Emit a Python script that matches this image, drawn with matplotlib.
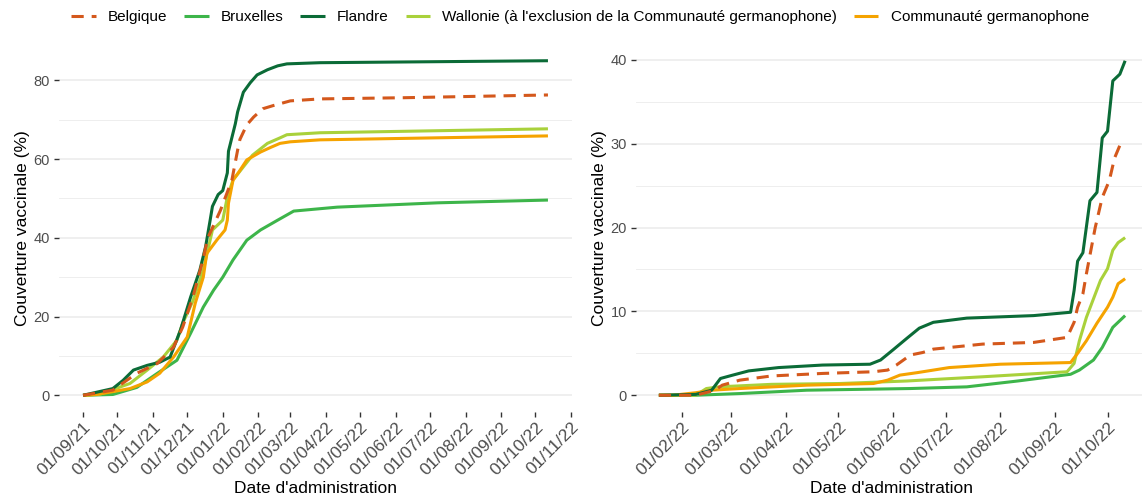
import matplotlib
matplotlib.use("Agg")
import matplotlib.pyplot as plt
import matplotlib.dates as mdates
import pandas as pd

plt.rcParams['font.family'] = ['Liberation Sans', 'DejaVu Sans']

# --- Panneau gauche (sept. 2021 -> oct. 2022) ---
g_flandre_d = ["2021-09-01", "2021-09-27", "2021-10-06", "2021-10-15", "2021-10-27", "2021-11-07",
               "2021-11-16", "2021-11-25", "2021-12-04", "2021-12-12", "2021-12-17", "2021-12-21",
               "2021-12-23", "2021-12-28", "2022-01-01", "2022-01-05", "2022-01-06", "2022-01-12",
               "2022-01-14", "2022-01-19", "2022-01-25", "2022-01-31", "2022-02-09", "2022-02-18",
               "2022-02-26", "2022-03-27", "2022-10-12"]
g_flandre_v = [0, 1.7, 3.8, 6.4, 7.6, 8.4, 9.7, 16.5, 25, 31.8, 37.7, 44.5, 48, 51, 52, 56.5, 62,
               69, 72, 77, 79.4, 81.4, 82.7, 83.7, 84.2, 84.5, 85.0]

g_belgique_d = ["2021-09-01", "2021-09-27", "2021-10-18", "2021-11-05", "2021-11-19", "2021-11-27",
                "2021-12-06", "2021-12-14", "2021-12-19", "2021-12-30", "2022-01-09", "2022-01-14",
                "2022-01-16", "2022-01-22", "2022-01-28", "2022-02-05", "2022-02-14", "2022-03-01",
                "2022-03-27", "2022-06-08", "2022-10-12"]
g_belgique_v = [0, 1.3, 5.6, 8.1, 12.2, 17.3, 25, 33.6, 40, 47, 54.7, 62.3, 65, 68.7, 70.7, 72.8,
                73.6, 74.8, 75.3, 75.6, 76.3]

g_wallonie_d = ["2021-09-01", "2021-09-16", "2021-10-12", "2021-10-27", "2021-11-10", "2021-11-22",
                "2021-11-27", "2021-12-06", "2021-12-15", "2021-12-23", "2022-01-01", "2022-01-05",
                "2022-01-10", "2022-01-27", "2022-02-09", "2022-02-20", "2022-02-26", "2022-03-27",
                "2022-10-12"]
g_wallonie_v = [0, 0.3, 3, 6.4, 9.7, 14, 18.3, 24, 31.8, 42, 44.5, 50.4, 54.7, 61, 64, 65.4, 66.2,
                66.7, 67.7]

g_germ_d = ["2021-09-01", "2021-09-13", "2021-10-12", "2021-10-27", "2021-11-07", "2021-11-19",
            "2021-12-01", "2021-12-08", "2021-12-15", "2021-12-18", "2021-12-27", "2022-01-03",
            "2022-01-05", "2022-01-06", "2022-01-10", "2022-01-15", "2022-01-22", "2022-02-03",
            "2022-02-12", "2022-02-20", "2022-03-01", "2022-03-27", "2022-10-12"]
g_germ_v = [0, 0.2, 1.7, 3.4, 5.6, 9.7, 14.8, 23.4, 30, 36, 39.5, 42, 44.5, 48.8, 54.7, 56.7, 59.8,
            61.8, 63, 64, 64.4, 64.9, 65.9]

g_bxl_d = ["2021-09-01", "2021-09-27", "2021-10-18", "2021-11-05", "2021-11-22", "2021-12-04",
           "2021-12-15", "2021-12-24", "2022-01-01", "2022-01-10", "2022-01-22", "2022-02-03",
           "2022-02-18", "2022-03-04", "2022-04-11", "2022-07-08", "2022-10-12"]
g_bxl_v = [0, 0.2, 2, 5.6, 8.9, 15.8, 22.4, 26.7, 30, 34.4, 39.4, 42, 44.5, 46.8, 47.8, 48.9, 49.6]

# --- Panneau droit (janv. 2022 -> oct. 2022) ---
d_flandre_d = ["2022-01-19", "2022-02-09", "2022-02-18", "2022-02-23", "2022-03-02", "2022-03-11",
               "2022-03-28", "2022-04-22", "2022-05-19", "2022-05-25", "2022-06-01", "2022-06-09",
               "2022-06-16", "2022-06-24", "2022-07-13", "2022-08-20", "2022-09-10", "2022-09-12",
               "2022-09-14", "2022-09-17", "2022-09-21", "2022-09-25", "2022-09-28", "2022-10-01",
               "2022-10-04", "2022-10-08", "2022-10-11"]
d_flandre_v = [0, 0.1, 0.6, 2.0, 2.4, 2.9, 3.3, 3.6, 3.7, 4.2, 5.4, 6.8, 8.0, 8.7, 9.2, 9.5, 9.9,
               12.5, 16, 17, 23.2, 24.2, 30.7, 31.5, 37.5, 38.3, 39.9]

d_belgique_d = ["2022-01-19", "2022-02-09", "2022-02-20", "2022-02-24", "2022-03-06", "2022-03-24",
                "2022-04-22", "2022-05-21", "2022-05-29", "2022-06-03", "2022-06-11", "2022-06-18",
                "2022-06-24", "2022-07-22", "2022-08-20", "2022-09-08", "2022-09-12", "2022-09-14",
                "2022-09-17", "2022-09-19", "2022-09-24", "2022-09-28", "2022-10-02", "2022-10-05",
                "2022-10-08", "2022-10-11"]
d_belgique_v = [0, 0, 0.6, 1.2, 1.8, 2.3, 2.6, 2.8, 3.0, 3.6, 4.8, 5.1, 5.5, 6.1, 6.3, 6.9, 8.7,
                10.5, 12.1, 14.5, 20, 23.6, 25.6, 28.3, 29.8, 30.1]

d_wallonie_d = ["2022-01-19", "2022-02-09", "2022-02-15", "2022-02-22", "2022-03-24", "2022-05-02",
                "2022-06-09", "2022-07-22", "2022-09-08", "2022-09-12", "2022-09-15", "2022-09-19",
                "2022-09-23", "2022-09-27", "2022-10-01", "2022-10-04", "2022-10-07", "2022-10-11"]
d_wallonie_v = [0, 0, 0.8, 1.0, 1.3, 1.4, 1.7, 2.2, 2.8, 3.8, 6.5, 9.3, 11.5, 13.7, 15.1, 17.3,
                18.2, 18.8]

d_germ_d = ["2022-01-19", "2022-01-27", "2022-02-09", "2022-02-18", "2022-03-06", "2022-04-13",
            "2022-05-21", "2022-05-29", "2022-06-05", "2022-06-15", "2022-07-03", "2022-08-01",
            "2022-09-10", "2022-09-14", "2022-09-19", "2022-09-25", "2022-10-01", "2022-10-04",
            "2022-10-07", "2022-10-11"]
d_germ_v = [0, 0, 0.3, 0.6, 0.8, 1.2, 1.4, 1.8, 2.4, 2.7, 3.3, 3.7, 3.9, 5.0, 6.5, 8.6, 10.5, 11.7,
            13.3, 13.9]

d_bxl_d = ["2022-01-19", "2022-02-09", "2022-03-06", "2022-04-13", "2022-06-11", "2022-07-13",
           "2022-08-11", "2022-09-10", "2022-09-15", "2022-09-23", "2022-09-28", "2022-10-04",
           "2022-10-11"]
d_bxl_v = [0, 0, 0.2, 0.6, 0.8, 1.0, 1.7, 2.5, 3.0, 4.2, 5.7, 8.1, 9.5]

noms = ["Belgique", "Bruxelles", "Flandre",
        "Wallonie (à l'exclusion de la Communauté germanophone)", "Communauté germanophone"]
couleurs = ["#D4581C", "#3DB54A", "#0B6B37", "#A9D13B", "#F5A300"]

gauche = [(g_belgique_d, g_belgique_v), (g_bxl_d, g_bxl_v), (g_flandre_d, g_flandre_v),
          (g_wallonie_d, g_wallonie_v), (g_germ_d, g_germ_v)]
droite = [(d_belgique_d, d_belgique_v), (d_bxl_d, d_bxl_v), (d_flandre_d, d_flandre_v),
          (d_wallonie_d, d_wallonie_v), (d_germ_d, d_germ_v)]

fig = plt.figure(figsize=(11.42, 4.97), dpi=100)
W, H = 1142, 497
ax1 = fig.add_axes([59 / W, 1 - 412 / H, (572 - 59) / W, 368 / H])
ax2 = fig.add_axes([636 / W, 1 - 412 / H, (1148 - 636) / W, 368 / H])

# ordre de dessin : Belgique au-dessus
ordre = [1, 3, 4, 2, 0]
for ax, series in [(ax1, gauche), (ax2, droite)]:
    for i in ordre:
        d, v = series[i]
        kw = dict(color=couleurs[i], lw=2.2, label=noms[i], solid_capstyle='butt')
        if i == 0:
            kw['dashes'] = (4, 2.6)
        ax.plot(pd.to_datetime(d), v, **kw)

ax1.set_xlim(pd.Timestamp("2021-08-11"), pd.Timestamp("2022-11-02"))
ax1.set_ylim(-4.25, 89.25)
ax1.set_yticks([0, 20, 40, 60, 80])
ax1.set_yticks([10, 30, 50, 70], minor=True)

ax2.set_xlim(pd.Timestamp("2022-01-06"), pd.Timestamp("2022-10-24"))
ax2.set_ylim(-2, 41.9)
ax2.set_yticks([0, 10, 20, 30, 40])
ax2.set_yticks([5, 15, 25, 35], minor=True)

for ax in (ax1, ax2):
    ax.xaxis.set_major_locator(mdates.MonthLocator())
    ax.xaxis.set_major_formatter(mdates.DateFormatter("%d/%m/%y"))
    for s in ax.spines.values():
        s.set_visible(False)
    ax.grid(axis='y', which='major', color='#EBEBEB', lw=1.1)
    ax.grid(axis='y', which='minor', color='#EBEBEB', lw=0.6)
    ax.grid(axis='x', visible=False)
    ax.set_axisbelow(True)
    ax.tick_params(axis='both', which='major', length=3.5, width=1, color='#333333',
                   labelcolor='#4D4D4D', pad=3)
    ax.tick_params(axis='y', labelsize=10.5)
    ax.tick_params(axis='x', labelsize=12.5, pad=2)
    ax.tick_params(axis='both', which='minor', length=0)
    for lab in ax.get_xticklabels():
        lab.set_rotation(45)
        lab.set_ha('right')
        lab.set_rotation_mode('anchor')
    ax.set_xlabel("Date d'administration", fontsize=12.5)
    ax.set_ylabel("Couverture vaccinale (%)", fontsize=12.5)
    ax.xaxis.set_label_coords(0.5, -0.187)
    ax.yaxis.set_label_coords(-0.057, 0.5)

poignees, etiquettes = ax1.get_legend_handles_labels()
idx = [etiquettes.index(n) for n in noms]
fig.legend([poignees[k] for k in idx], [etiquettes[k] for k in idx],
           loc='center', bbox_to_anchor=(580 / W, 1 - 17 / H), ncol=5, frameon=False,
           fontsize=11, handlelength=1.6, handletextpad=0.8, columnspacing=1.1)

fig.savefig("out.png", dpi=100)
